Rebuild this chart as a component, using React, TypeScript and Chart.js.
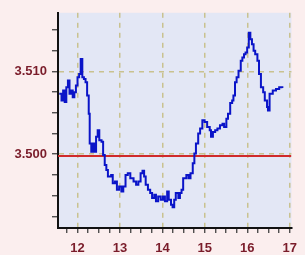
import React, { useEffect, useRef } from "react";
import { Chart, registerables } from "chart.js";
Chart.register(...registerables);

const timeX = [
  11.57, 11.623, 11.661, 11.698, 11.736, 11.774, 11.811, 11.849, 11.887, 11.925, 11.962, 12.0, 12.038, 12.075,
  12.113, 12.151, 12.189, 12.226, 12.264, 12.287, 12.324, 12.362, 12.4, 12.437, 12.475, 12.513, 12.566, 12.603,
  12.641, 12.679, 12.716, 12.792, 12.83, 12.882, 12.928, 12.98, 13.033, 13.078, 13.131, 13.184, 13.244, 13.32,
  13.38, 13.433, 13.486, 13.531, 13.569, 13.606, 13.659, 13.712, 13.757, 13.81, 13.848, 13.9, 13.961, 14.014,
  14.059, 14.112, 14.149, 14.202, 14.24, 14.278, 14.315, 14.376, 14.413, 14.451, 14.489, 14.564, 14.617, 14.662,
  14.715, 14.753, 14.79, 14.843, 14.888, 14.941, 14.994, 15.054, 15.115, 15.145, 15.19, 15.243, 15.296, 15.356,
  15.416, 15.454, 15.507, 15.545, 15.597, 15.643, 15.673, 15.71, 15.748, 15.793, 15.846, 15.884, 15.922, 15.959,
  15.997, 16.035, 16.072, 16.11, 16.148, 16.186, 16.238, 16.276, 16.321, 16.374, 16.412, 16.465, 16.487, 16.525,
  16.6, 16.676, 16.751, 16.826,
];
const priceY = [
  3.5073, 3.5065, 3.5077, 3.5063, 3.5081, 3.5089, 3.5073, 3.5077, 3.5069, 3.5075, 3.5083, 3.5093, 3.5097, 3.5115,
  3.5093, 3.5091, 3.5087, 3.5071, 3.5049, 3.5013, 3.5003, 3.5013, 3.5003, 3.5021, 3.5029, 3.5017, 3.5015, 3.4999,
  3.4987, 3.4981, 3.4973, 3.4975, 3.4965, 3.4967, 3.4957, 3.4961, 3.4955, 3.4961, 3.4975, 3.4977, 3.4971, 3.4967,
  3.4963, 3.4967, 3.4977, 3.498, 3.4973, 3.4963, 3.4957, 3.4953, 3.4947, 3.4951, 3.4943, 3.4949, 3.4945, 3.4949,
  3.4943, 3.4955, 3.4945, 3.4939, 3.4936, 3.4945, 3.4953, 3.4947, 3.4953, 3.4957, 3.4971, 3.4975, 3.4971, 3.4977,
  3.4989, 3.5001, 3.5013, 3.5025, 3.5031, 3.5041, 3.5039, 3.5033, 3.5029, 3.5021, 3.5027, 3.5029, 3.5031, 3.5035,
  3.5037, 3.5033, 3.5043, 3.5049, 3.5062, 3.5065, 3.5071, 3.5087, 3.5093, 3.5101, 3.5113, 3.5117, 3.5121, 3.5123,
  3.5129, 3.5147, 3.5139, 3.5133, 3.5125, 3.5121, 3.5113, 3.5097, 3.5081, 3.5075, 3.5065, 3.5057, 3.5053, 3.5073,
  3.5077, 3.5079, 3.5081, 3.508,
];
const referenceLevel = 3.4998;
const xMin = 11.54;
const xMax = 17.04;
const yMin = 3.49108;
const yMax = 3.5171;
const xTickValues = [11.75, 12, 12.25, 12.5, 12.75, 13, 13.25, 13.5, 13.75, 14, 14.25, 14.5, 14.75, 15, 15.25, 15.5, 15.75, 16, 16.25, 16.5, 16.75, 17];
const yTickValues = [3.4925, 3.495, 3.4975, 3.5, 3.5025, 3.505, 3.5075, 3.51, 3.5125, 3.515];
const yLabeled = [3.5, 3.51];

const LABEL_COLOR = "#7a1c2a";
const GRID_COLOR = "#c9c28f";

const plotBg = {
  id: "plotBg",
  beforeDraw(chart: any) {
    const { ctx, chartArea } = chart;
    ctx.save();
    ctx.fillStyle = "#e3e7f5";
    ctx.fillRect(chartArea.left, chartArea.top, chartArea.right - chartArea.left, chartArea.bottom - chartArea.top);
    ctx.restore();
  },
};

const isMajorX = (v: number) => Math.abs(v - Math.round(v)) < 1e-6;
const isMajorY = (v: number) => yLabeled.some((l) => Math.abs(l - v) < 1e-7);

export default function App() {
  const ref = useRef<HTMLCanvasElement>(null);
  useEffect(() => {
    document.body.style.margin = "0";
    const chart = new Chart(ref.current!, {
      type: "line",
      data: {
        datasets: [
          {
            data: timeX.map((x, i) => ({ x, y: priceY[i] })),
            borderColor: "#0a14c8",
            borderWidth: 2,
            pointRadius: 0,
            stepped: true,
            order: 0,
          },
          {
            data: [
              { x: xMin, y: referenceLevel },
              { x: xMax, y: referenceLevel },
            ],
            borderColor: "#d02a2a",
            borderWidth: 2,
            pointRadius: 0,
            order: 1,
          },
        ],
      },
      options: {
        animation: false,
        responsive: false,
        maintainAspectRatio: false,
        layout: { padding: { top: 12, right: 4, left: 0, bottom: 0 } },
        plugins: { legend: { display: false }, tooltip: { enabled: false } },
        scales: {
          x: {
            type: "linear",
            min: xMin,
            max: xMax,
            afterBuildTicks: (s: any) => {
              s.ticks = xTickValues.map((value) => ({ value }));
            },
            afterFit: (s: any) => {
              s.height = 27;
            },
            ticks: {
              autoSkip: false,
              maxRotation: 0,
              padding: 8,
              color: LABEL_COLOR,
              font: { family: "Arial", size: 13, weight: "bold" },
              callback: (v: any) => (isMajorX(Number(v)) ? String(Math.round(Number(v))) : ""),
            },
            grid: {
              color: (c: any) => (c.tick && isMajorX(c.tick.value) ? GRID_COLOR : "rgba(0,0,0,0)"),
              tickColor: "#333",
              tickLength: 5,
              lineWidth: 1.5,
              tickWidth: 1.2,
            },
            border: { color: "#111", width: 2, dash: [5, 5] },
          },
          y: {
            type: "linear",
            min: yMin,
            max: yMax,
            afterBuildTicks: (s: any) => {
              s.ticks = yTickValues.map((value) => ({ value }));
            },
            afterFit: (s: any) => {
              s.width = 58;
            },
            ticks: {
              autoSkip: false,
              padding: 5,
              color: LABEL_COLOR,
              font: { family: "Arial", size: 13, weight: "bold" },
              callback: (v: any) => (isMajorY(Number(v)) ? Number(v).toFixed(3) : ""),
            },
            grid: {
              color: (c: any) => (c.tick && isMajorY(c.tick.value) ? GRID_COLOR : "rgba(0,0,0,0)"),
              tickColor: "#333",
              tickLength: 6,
              lineWidth: 1.5,
              tickWidth: 1.2,
            },
            border: { color: "#111", width: 2, dash: [5, 5] },
          },
        },
      },
      plugins: [plotBg],
    });
    return () => chart.destroy();
  }, []);
  return (
    <div style={{ width: 305, height: 255, background: "#fbeeee", position: "relative" }}>
      <canvas ref={ref} width={305} height={255} style={{ display: "block" }} />
    </div>
  );
}
